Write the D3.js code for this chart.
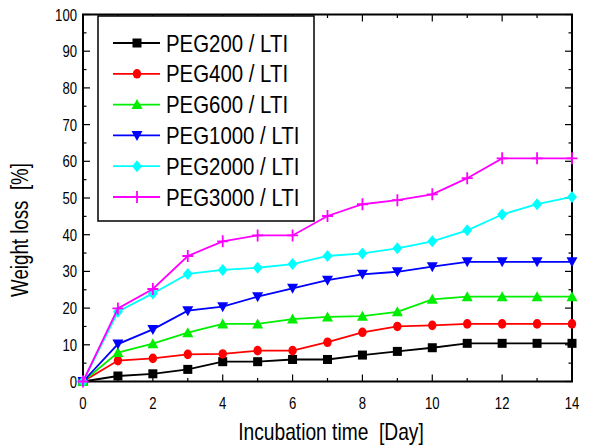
<!DOCTYPE html>
<html>
<head>
<meta charset="utf-8">
<script src="https://cdn.jsdelivr.net/npm/d3@7"></script>
<style>
  body { margin: 0; background: #fff; }
  text { font-family: "Liberation Sans", Arial, sans-serif; fill: #000; }
</style>
</head>
<body>
<script>
const days = [0, 1, 2, 3, 4, 5, 6, 7, 8, 9, 10, 11, 12, 13, 14];
const peg200 = [0, 1.5, 2.1, 3.3, 5.4, 5.4, 6.0, 6.0, 7.2, 8.2, 9.2, 10.4, 10.4, 10.4, 10.4];
const peg400 = [0, 5.7, 6.3, 7.4, 7.5, 8.4, 8.4, 10.7, 13.4, 15.0, 15.3, 15.7, 15.7, 15.7, 15.7];
const peg600 = [0, 7.9, 10.3, 13.3, 15.7, 15.7, 17.0, 17.6, 17.8, 19.0, 22.4, 23.1, 23.1, 23.1, 23.1];
const peg1000 = [0, 10.2, 14.2, 19.3, 20.4, 23.1, 25.4, 27.6, 29.2, 29.9, 31.3, 32.6, 32.6, 32.6, 32.6];
const peg2000 = [0, 19.0, 24.0, 29.3, 30.4, 31.0, 32.0, 34.2, 34.9, 36.3, 38.2, 41.2, 45.5, 48.3, 50.3];
const peg3000 = [0, 19.9, 25.2, 34.2, 38.2, 39.8, 39.8, 45.1, 48.3, 49.4, 51.0, 55.4, 60.8, 60.8, 60.8];
const seriesNames = ["PEG200 / LTI", "PEG400 / LTI", "PEG600 / LTI", "PEG1000 / LTI", "PEG2000 / LTI", "PEG3000 / LTI"];
const xTicks = [0, 2, 4, 6, 8, 10, 12, 14];
const yTicks = [0, 10, 20, 30, 40, 50, 60, 70, 80, 90, 100];

const series = [
  { name: seriesNames[0], values: peg200, color: "#000000", symbol: "square" },
  { name: seriesNames[1], values: peg400, color: "#ff0000", symbol: "circle" },
  { name: seriesNames[2], values: peg600, color: "#00ee00", symbol: "triUp" },
  { name: seriesNames[3], values: peg1000, color: "#0000ff", symbol: "triDown" },
  { name: seriesNames[4], values: peg2000, color: "#00ffff", symbol: "diamond" },
  { name: seriesNames[5], values: peg3000, color: "#ff00ff", symbol: "plus" }
];

const W = 593, H = 445;
const m = { left: 83, right: 21, top: 14.5, bottom: 63.5 };

const svg = d3.select("body").append("svg").attr("width", W).attr("height", H);

const x = d3.scaleLinear().domain([0, 14]).range([m.left, W - m.right]);
const y = d3.scaleLinear().domain([0, 100]).range([H - m.bottom, m.top]);

// the original font is a narrow one, so squeeze text horizontally
function label(sel, tx, ty, str, size, sx, anchor, rot) {
  return sel.append("text")
    .attr("transform", `translate(${tx},${ty})` + (rot ? ` rotate(${rot})` : "") + ` scale(${sx},1)`)
    .attr("text-anchor", anchor || "start")
    .attr("font-size", size)
    .attr("xml:space", "preserve")
    .text(str);
}

// frame
svg.append("rect")
  .attr("x", x(0)).attr("y", y(100))
  .attr("width", x(14) - x(0)).attr("height", y(0) - y(100))
  .attr("fill", "none").attr("stroke", "#000").attr("stroke-width", 2);

// ticks, all pointing inward
const g = svg.append("g").attr("stroke", "#000").attr("stroke-width", 1.2);
d3.range(0, 15, 1).forEach(d => {
  const len = d % 2 === 0 ? 7 : 3.5;
  g.append("line").attr("x1", x(d)).attr("x2", x(d)).attr("y1", y(0)).attr("y2", y(0) - len);
  g.append("line").attr("x1", x(d)).attr("x2", x(d)).attr("y1", y(100)).attr("y2", y(100) + len);
});
d3.range(0, 101, 5).forEach(d => {
  const len = d % 10 === 0 ? 7 : 3.5;
  g.append("line").attr("y1", y(d)).attr("y2", y(d)).attr("x1", x(0)).attr("x2", x(0) + len);
  g.append("line").attr("y1", y(d)).attr("y2", y(d)).attr("x1", x(14)).attr("x2", x(14) - len);
});

xTicks.forEach(d => label(svg, x(d), y(0) + 27, d, 16, 0.82, "middle"));
yTicks.forEach(d => label(svg, x(0) - 6, y(d) + 6, d, 16, 0.82, "end"));

label(svg, 331, 440, "Incubation time  [Day]", 24, 0.8, "middle");
label(svg, 28, 230, "Weight loss  [%]", 24, 0.78, "middle", -90);

function marker(sel, s, cx, cy) {
  const c = s.color;
  if (s.symbol === "square") {
    sel.append("rect").attr("x", cx - 4.5).attr("y", cy - 4.5).attr("width", 9).attr("height", 9).attr("fill", c);
  } else if (s.symbol === "circle") {
    sel.append("ellipse").attr("cx", cx).attr("cy", cy).attr("rx", 4.2).attr("ry", 4.8).attr("fill", c);
  } else if (s.symbol === "triUp") {
    sel.append("path").attr("d", `M${cx},${cy - 5.5}L${cx + 5.5},${cy + 4.5}L${cx - 5.5},${cy + 4.5}Z`).attr("fill", c);
  } else if (s.symbol === "triDown") {
    sel.append("path").attr("d", `M${cx},${cy + 5.5}L${cx + 5.5},${cy - 4.5}L${cx - 5.5},${cy - 4.5}Z`).attr("fill", c);
  } else if (s.symbol === "diamond") {
    sel.append("path").attr("d", `M${cx},${cy - 6}L${cx + 5},${cy}L${cx},${cy + 6}L${cx - 5},${cy}Z`).attr("fill", c);
  } else {
    sel.append("path").attr("d", `M${cx - 5.5},${cy}H${cx + 5.5}M${cx},${cy - 6}V${cy + 6}`)
      .attr("stroke", c).attr("stroke-width", 1.8).attr("fill", "none");
  }
}

const line = d3.line().x((d, i) => x(days[i])).y(d => y(d));
series.forEach(s => {
  const gs = svg.append("g");
  gs.append("path").attr("d", line(s.values)).attr("fill", "none")
    .attr("stroke", s.color).attr("stroke-width", 1.8);
  s.values.forEach((v, i) => marker(gs, s, x(days[i]), y(v)));
});

// legend
const lg = svg.append("g");
lg.append("rect").attr("x", 98).attr("y", 16).attr("width", 216).attr("height", 205)
  .attr("fill", "#fff").attr("stroke", "#000").attr("stroke-width", 1.5);
series.forEach((s, i) => {
  const cy = 43 + i * 30.8;
  lg.append("line").attr("x1", 113).attr("x2", 160).attr("y1", cy).attr("y2", cy)
    .attr("stroke", s.color).attr("stroke-width", 1.8);
  marker(lg, s, 137, cy);
  label(lg, 166, cy + 8.5, s.name, 24, 0.85);
});
</script>
</body>
</html>
